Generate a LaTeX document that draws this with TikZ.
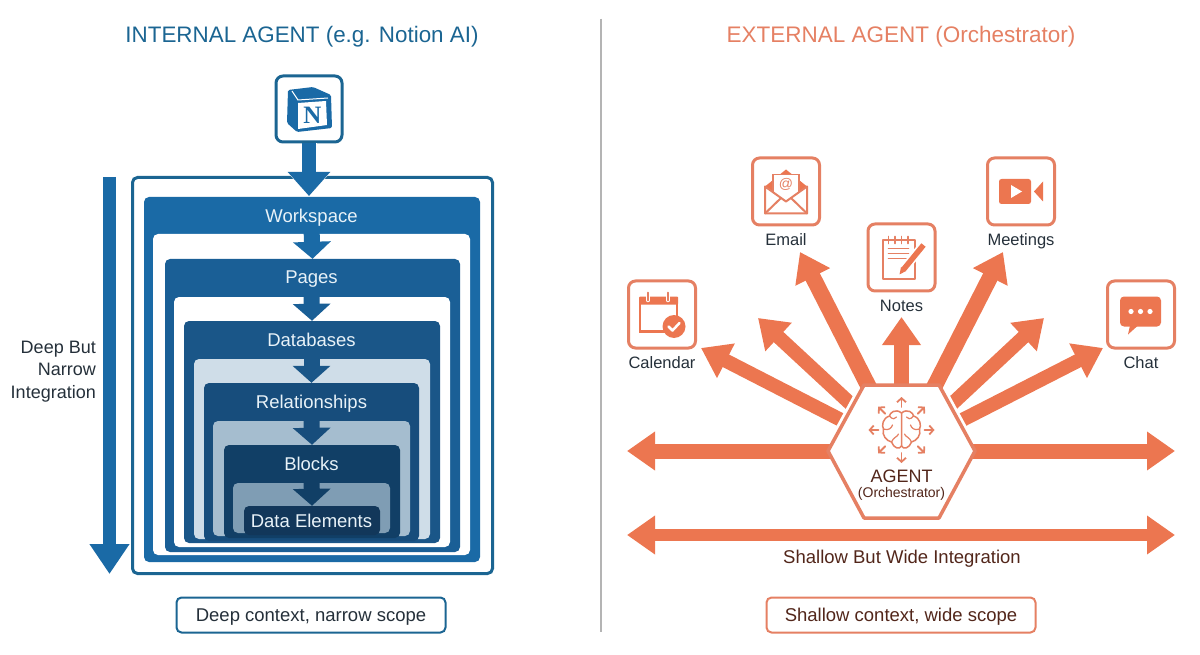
\documentclass[tikz,border=0pt]{standalone}
\usepackage{fontspec}
\setmainfont{Liberation Sans}
\newfontfamily\logofont{Liberation Serif}
\usetikzlibrary{arrows.meta}

\definecolor{DeepBlue}{HTML}{1A6AA6}
\definecolor{LineBlue}{HTML}{1B6592}
\definecolor{PagesBlue}{HTML}{1A5F96}
\definecolor{DbBlue}{HTML}{1A5688}
\definecolor{RelBlue}{HTML}{174D7C}
\definecolor{BlockBlue}{HTML}{113F66}
\definecolor{DataBlue}{HTML}{12375A}
\definecolor{PaleOne}{HTML}{CFDDE8}
\definecolor{PaleTwo}{HTML}{A5BDCF}
\definecolor{PaleThree}{HTML}{7F9DB4}
\definecolor{SoftText}{HTML}{E8F2F8}
\definecolor{InkText}{HTML}{25303A}
\definecolor{Coral}{HTML}{EC7650}
\definecolor{CoralLine}{HTML}{E58063}
\definecolor{BrownText}{HTML}{52261A}
\definecolor{RuleGray}{HTML}{B4B4B4}

\newcommand{\pxfont}[1]{\fontsize{#1}{#1}\selectfont}

\tikzset{
  levelbox/.style={rectangle,rounded corners=5pt,inner sep=0pt},
  leveltext/.style={text=SoftText,font=\pxfont{18.5},inner sep=1pt},
  levelarrow/.style={line width=16pt,-{Triangle[length=17pt,width=37pt]}},
  iconbox/.style={draw=CoralLine,line width=3pt,rounded corners=7pt,fill=white,
    minimum width=67pt,minimum height=67pt,inner sep=0pt},
  iconlabel/.style={text=InkText,font=\pxfont{16.5},inner sep=1pt},
  fatarrow/.style={Coral,line width=14pt,-{Triangle[length=28pt,width=37pt]}},
  widearrow/.style={Coral,line width=12pt,{Triangle[length=28pt,width=37pt]}-{Triangle[length=28pt,width=37pt]}},
  captionbox/.style={rectangle,rounded corners=5pt,line width=2pt,fill=white,
    minimum width=269pt,minimum height=35pt,inner sep=0pt,text height=15pt,text depth=3pt,font=\pxfont{18.5}},
  pen/.style={CoralLine,line width=1.8pt,line cap=round,line join=round},
}

\begin{document}
\begin{tikzpicture}[x=1pt,y=-1pt]
  \useasboundingbox (0,0) rectangle (1200,655);

  \node (internaltitle) [text=LineBlue,font=\pxfont{22.4}] at (302,36.5) {INTERNAL AGENT (e.g. Notion AI)};
  \node (externaltitle) [text=CoralLine,font=\pxfont{22.5}] at (901,36.5) {EXTERNAL AGENT (Orchestrator)};
  \node (ruletop) [inner sep=0pt] at (601,18) {};
  \node (rulebottom) [inner sep=0pt] at (601,633) {};
  \draw[RuleGray,line width=1.5pt] (ruletop) -- (rulebottom);

  % nested levels
  \node (frame) [levelbox,draw=LineBlue,line width=3pt,fill=white,minimum width=360pt,minimum height=396pt] at (312.5,375.5) {};
  \node (workspace) [levelbox,fill=DeepBlue,minimum width=336pt,minimum height=365pt] at (312,379.5) {};
  \node (workspacein) [levelbox,fill=white,minimum width=317pt,minimum height=321pt] at (311.5,394.5) {};
  \node (pages) [levelbox,fill=PagesBlue,minimum width=295pt,minimum height=293pt] at (312.5,405.5) {};
  \node (pagesin) [levelbox,fill=white,minimum width=276pt,minimum height=250pt] at (312,422) {};
  \node (databases) [levelbox,fill=DbBlue,minimum width=256pt,minimum height=222pt] at (312,432) {};
  \node (databasesin) [levelbox,fill=PaleOne,minimum width=236pt,minimum height=180pt] at (312,449) {};
  \node (relations) [levelbox,fill=RelBlue,minimum width=215pt,minimum height=158pt] at (311.5,462) {};
  \node (relationsin) [levelbox,fill=PaleTwo,minimum width=197pt,minimum height=115pt] at (311.5,478.5) {};
  \node (blocks) [levelbox,fill=BlockBlue,minimum width=176pt,minimum height=93pt] at (312,491.5) {};
  \node (blocksin) [levelbox,fill=PaleThree,minimum width=157pt,minimum height=50pt] at (311.5,508) {};
  \node (dataelems) [levelbox,fill=DataBlue,minimum width=136pt,minimum height=29pt] at (312,520.5) {};

  \node (workspacetext) [leveltext] at (311.5,217.5) {Workspace};
  \node (pagestext) [leveltext] at (311.5,279) {Pages};
  \node (databasestext) [leveltext] at (311.5,340) {Databases};
  \node (relationstext) [leveltext] at (311.5,403.5) {Relationships};
  \node (blockstext) [leveltext] at (311.5,464) {Blocks};
  \node (dataelemstext) [leveltext] at (311.5,521) {Data Elements};

  \draw[levelarrow,DeepBlue] (workspacetext.south) -- (pages.north);
  \draw[levelarrow,PagesBlue] (pagestext.south) -- (databases.north);
  \draw[levelarrow,DbBlue] (databasestext.south) -- (relations.north);
  \draw[levelarrow,RelBlue] (relationstext.south) -- (blocks.north);
  \draw[levelarrow,BlockBlue] (blockstext.south) -- (dataelems.north);

  % logo and entry arrow
  \node (logo) [draw=LineBlue,line width=3pt,rounded corners=7pt,fill=white,minimum width=66pt,minimum height=66pt,inner sep=0pt] at (309,109) {};
  \fill[DeepBlue,rounded corners=1.5pt] (288,90) -- (313,87) -- (331,95) -- (332,128) -- (297,132) -- (287,123) -- cycle;
  \fill[white] (298,103) -- (326,101) -- (327,125) -- (298,129) -- cycle;
  \draw[white,line width=1pt] (292,91) -- (298,100) -- (328,98);
  \node (logotext) [text=DeepBlue,font=\logofont\bfseries\pxfont{25},inner sep=0pt] at (312.5,115) {N};
  \coordinate (entrytip) at (309,196);
  \draw[white,line width=15pt,-{Triangle[length=31pt,width=55pt]}] (logo.south) -- (entrytip);
  \draw[DeepBlue,line width=14pt,-{Triangle[length=24pt,width=41pt]}] (logo.south) -- (entrytip);

  % depth arrow
  \coordinate (depthtop) at (109.5,177);
  \coordinate (depthtip) at (109.5,574);
  \draw[DeepBlue,line width=12.5pt,-{Triangle[length=30pt,width=38pt]}] (depthtop) -- (depthtip);
  \node (depthtext) [align=right,anchor=east,text=InkText,font=\pxfont{18},inner sep=0pt] at (96,371.5) {Deep But\\[4.5pt]Narrow\\[4.5pt]Integration};

  \node (deepcaption) [captionbox,draw=LineBlue,text=InkText] at (311,615) {Deep context, narrow scope};

  % integrations
  \node (calendar) [iconbox] at (662,314.5) {};
  \node (email) [iconbox] at (786,191.5) {};
  \node (notes) [iconbox] at (901.5,257.5) {};
  \node (meetings) [iconbox] at (1021,191.5) {};
  \node (chat) [iconbox] at (1141,314.5) {};

  \node (calendartext) [iconlabel] at (662,363) {Calendar};
  \node (emailtext) [iconlabel] at (786,240) {Email};
  \node (notestext) [iconlabel] at (901.5,306) {Notes};
  \node (meetingstext) [iconlabel] at (1021,241) {Meetings};
  \node (chattext) [iconlabel] at (1141,363) {Chat};

  \begin{scope}[shift={(662,314.5)}]
    \fill[Coral,rounded corners=1pt] (-23,-10) -- (-23,-18) -- (16,-18) -- (16,-10) -- cycle;
    \draw[Coral,line width=2.5pt] (-22,-12) -- (-22,17) -- (3,17);
    \draw[Coral,line width=2.5pt] (15,-12) -- (15,2);
    \draw[white,line width=3.5pt,line cap=round] (-14,-20) -- (-14,-14) (6,-20) -- (6,-14);
    \draw[CoralLine,line width=1.5pt,line cap=round] (-14,-22) -- (-14,-14) (6,-22) -- (6,-14);
    \fill[Coral] (12,12) circle (11.5);
    \draw[white,line width=2.5pt,line cap=round,line join=round] (6.5,12) -- (10.5,16) -- (17.5,8.5);
  \end{scope}

  \begin{scope}[shift={(786,191.5)}]
    \fill[Coral] (-21,-5) -- (0,-22) -- (21,-5) -- (0,10) -- cycle;
    \draw[CoralLine,line width=1.5pt,fill=white] (-13,10) -- (-13,-17) -- (13,-17) -- (13,10);
    \node (emailat) [text=CoralLine,font=\pxfont{14},inner sep=0pt] at (0,-7) {@};
    \draw[pen,fill=white,line width=2pt] (-21,-5) -- (-21,22) -- (21,22) -- (21,-5) -- (0,10) -- cycle;
    \draw[pen,line width=2pt] (-21,22) -- (-5,6.5) (21,22) -- (5,6.5);
  \end{scope}

  \begin{scope}[shift={(901.5,257.5)}]
    \draw[pen,line width=2pt] (-19,-17) rectangle (13.5,22);
    \foreach \x in {-13,-6.5,0,6.5}{%
        \draw[pen] (\x,-21) -- (\x,-14);
      }
    \foreach \y in {-9,-4,1}{%
        \draw[pen] (-13,\y) -- (7,\y);
      }
    \draw[white,line width=9pt] (-1.5,16) -- (22,-12.5);
    \draw[Coral,line width=5.5pt] (2,12) -- (22,-12.5);
    \fill[Coral] (-2,17) -- (-0.5,9.5) -- (4.5,13.5) -- cycle;
  \end{scope}

  \begin{scope}[shift={(1021,191.5)}]
    \fill[Coral,rounded corners=2.5pt] (-22,-12.5) rectangle (10,12.5);
    \fill[Coral] (13,0) -- (22,-10) -- (22,10) -- cycle;
    \fill[white] (-10,-6.5) -- (-10,6.5) -- (1,0) -- cycle;
  \end{scope}

  \begin{scope}[shift={(1141,314.5)}]
    \fill[Coral,rounded corners=4pt] (-21,-18) rectangle (20,12);
    \fill[Coral] (-11,11) -- (-13,20) -- (-3,11) -- cycle;
    \foreach \x in {-10,-0.5,9}{%
        \fill[white] (\x,-3) circle (2.6);
      }
  \end{scope}

  % agent hub
  \coordinate (hub) at (901.5,451);
  \coordinate (calendartip) at (701,348);
  \coordinate (leftspare) at (758,318);
  \coordinate (emailtip) at (800,252);
  \coordinate (notestip) at (901.5,317);
  \coordinate (meetingstip) at (1003,252);
  \coordinate (rightspare) at (1044,318);
  \coordinate (chattip) at (1103,348);
  \coordinate (westtip) at (627,451);
  \coordinate (easttip) at (1175,451);
  \coordinate (widewest) at (627,535);
  \coordinate (wideeast) at (1175,535);

  \foreach \t in {calendartip,leftspare,rightspare,chattip}{%
      \draw[fatarrow] (hub) -- (\t);
    }
  \draw[white,line width=9pt,line join=round] (828,451) -- (864,385) -- (939,385) -- (975,451) -- (939,518) -- (864,518) -- cycle;
  \draw[fatarrow,line width=16pt] (hub) -- (emailtip);
  \draw[fatarrow,line width=16pt] (hub) -- (meetingstip);
  \draw[fatarrow,line width=15pt] (hub) -- (notestip);
  \draw[fatarrow,line width=15pt] (hub) -- (westtip);
  \draw[fatarrow,line width=15pt] (hub) -- (easttip);
  \draw[widearrow] (widewest) -- (wideeast);
  \draw[CoralLine,line width=3.5pt,fill=white,line join=round] (828,451) -- (864,385) -- (939,385) -- (975,451) -- (939,518) -- (864,518) -- cycle;

  \begin{scope}[shift={(901.5,430)}]
    \foreach \a in {0,45,...,315}{%
        \draw[pen,rotate=\a,-{Straight Barb[length=4pt,width=9pt]}] (23,0) -- (33,0);
      }
    \draw[pen,line width=1.5pt] (0,-17) .. controls (-6,-22) and (-12,-17) .. (-12,-14)
      .. controls (-19,-12) and (-20,-4) .. (-18,-1)
      .. controls (-20,5) and (-15,11) .. (-10,12)
      .. controls (-8,18) and (-2,20) .. (0,16) -- cycle;
    \draw[pen,line width=1.5pt] (0,-17) .. controls (6,-22) and (12,-17) .. (12,-14)
      .. controls (19,-12) and (20,-4) .. (18,-1)
      .. controls (20,5) and (15,11) .. (10,12)
      .. controls (8,18) and (2,20) .. (0,16);
    \draw[pen,line width=1.2pt] (-12,-14) .. controls (-9,-10) and (-6,-11) .. (-5,-13)
      (-18,-1) .. controls (-13,1) and (-10,-2) .. (-9,-5)
      (-10,12) .. controls (-8,7) and (-4,7) .. (-3,4)
      (12,-14) .. controls (9,-10) and (6,-11) .. (5,-13)
      (18,-1) .. controls (13,1) and (10,-2) .. (9,-5)
      (10,12) .. controls (8,7) and (4,7) .. (3,4);
  \end{scope}

  \node (agenttext) [text=BrownText,font=\pxfont{18},inner sep=0pt] at (901.5,476.5) {AGENT};
  \node (orchtext) [text=BrownText,font=\pxfont{14},inner sep=0pt] at (901.5,494) {(Orchestrator)};

  \node (widetext) [text=BrownText,font=\pxfont{18.5},inner sep=0pt] at (902,559) {Shallow But Wide Integration};
  \node (widecaption) [captionbox,draw=CoralLine,text=BrownText] at (901,615) {Shallow context, wide scope};
\end{tikzpicture}
\end{document}
